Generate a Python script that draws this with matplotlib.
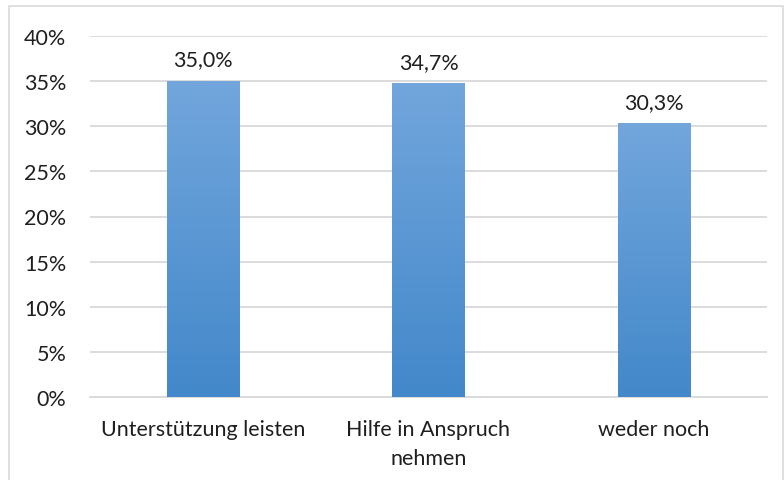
import numpy as np
import matplotlib.pyplot as plt
from matplotlib.patches import Rectangle
from matplotlib.ticker import FuncFormatter

plt.rcParams['font.family'] = ['Lato', 'DejaVu Sans']

# Daten
categories = ["Unterstützung leisten", "Hilfe in Anspruch\nnehmen", "weder noch"]
values = [35.0, 34.7, 30.3]
value_labels = ["35,0%", "34,7%", "30,3%"]
yticks = [0, 5, 10, 15, 20, 25, 30, 35, 40]

fs = 15.5

fig = plt.figure(figsize=(7.84, 4.81), dpi=100)
ax = fig.add_axes([90 / 784, 1 - 398 / 481, (767 - 90) / 784, (398 - 37) / 481])

x = np.arange(len(categories))
bars = ax.bar(x, values, width=0.32, color='none', zorder=3)

# Farbverlauf in den Balken
grad = np.linspace(0, 1, 256).reshape(256, 1, 1)
top = np.array([114, 166, 220]) / 255
bottom = np.array([67, 136, 202]) / 255
img = bottom + (top - bottom) * grad * np.ones((1, 1, 3))
for b in bars:
    x0, y0 = b.get_x(), b.get_y()
    w, h = b.get_width(), b.get_height()
    ax.imshow(img, extent=[x0, x0 + w, y0, y0 + h], origin='lower',
              aspect='auto', zorder=3)

for xi, v, lab in zip(x, values, value_labels):
    ax.annotate(lab, (xi, v), xytext=(0, 8.5), textcoords='offset points',
                ha='center', va='bottom', fontsize=fs, color='#1F1F1F')

ax.set_xlim(-0.5, len(categories) - 0.5)
ax.set_ylim(0, 40)
ax.set_yticks(yticks)
ax.yaxis.set_major_formatter(FuncFormatter(lambda v, p: f"{v:.0f}%"))
ax.set_xticks(x)
ax.set_xticklabels(categories, fontsize=fs, color='#1F1F1F', linespacing=1.55)
ax.tick_params(axis='y', labelsize=fs, labelcolor='#1F1F1F', length=0, pad=17)
ax.tick_params(axis='x', length=0, pad=16)

ax.grid(axis='y', color='#D9D9D9', linewidth=1.3, zorder=0)
ax.set_axisbelow(True)
for s in ['top', 'right', 'left']:
    ax.spines[s].set_visible(False)
ax.spines['bottom'].set_color('#D9D9D9')
ax.spines['bottom'].set_linewidth(1.3)

# Rahmen
fig.patches.append(Rectangle((9 / 784, -0.01), 1 - 10 / 784, 1 - 7 / 481 + 0.01,
                             transform=fig.transFigure, fill=False,
                             edgecolor='#D9D9D9', linewidth=1.2))

fig.savefig('out.png', dpi=100)
